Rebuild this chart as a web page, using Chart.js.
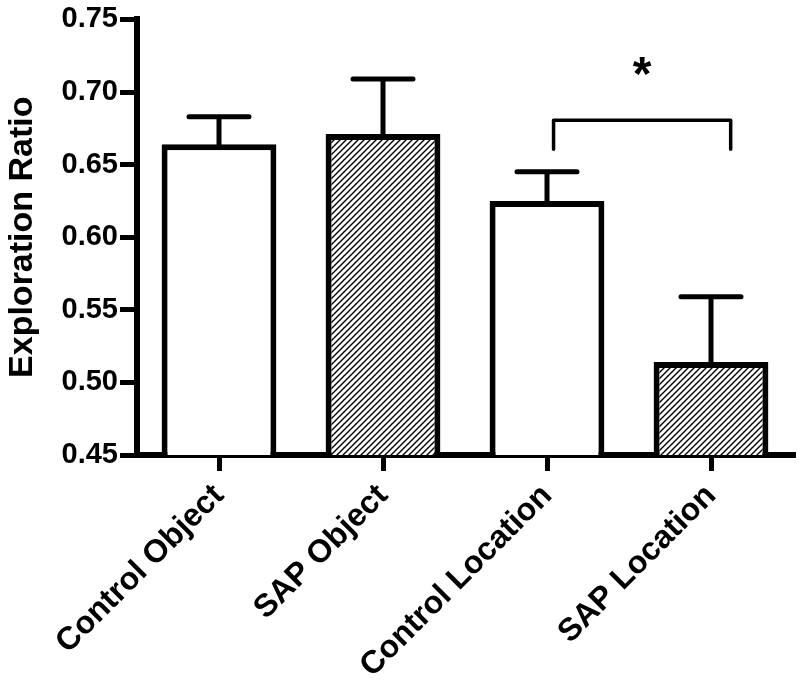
<!DOCTYPE html>
<html>
<head>
<meta charset="utf-8">
<script src="https://cdn.jsdelivr.net/npm/chart.js@4.4.1/dist/chart.umd.min.js"></script>
<style>
  body { margin: 0; background: #fff; }
  #wrap { width: 800px; height: 686px; }
</style>
</head>
<body>
<div id="wrap"><canvas id="myChart" width="800" height="686"></canvas></div>
<script>
// values
const categories = ['Control Object', 'SAP Object', 'Control Location', 'SAP Location'];
const means = [0.664, 0.671, 0.625, 0.514];
const sems = [0.019, 0.038, 0.020, 0.045];
const hatched = [false, true, false, true];
const yTicks = [0.45, 0.50, 0.55, 0.60, 0.65, 0.70, 0.75];

// significance bracket between Control Location and SAP Location
const sigFrom = [2.04, 0.6605];
const sigTo = [3.12, 0.6805];
const sigLabel = '*';
const sigLabelLevel = 0.7015;

const FONT = '"Liberation Sans", Arial, sans-serif';

function makeHatch(ctx) {
    const c = document.createElement('canvas');
    c.width = 6; c.height = 6;
    const g = c.getContext('2d');
    g.fillStyle = '#fff';
    g.fillRect(0, 0, 6, 6);
    g.strokeStyle = '#000';
    g.lineWidth = 1.4;
    g.beginPath();
    g.moveTo(0, 6); g.lineTo(6, 0);
    g.moveTo(-1, 1); g.lineTo(1, -1);
    g.moveTo(5, 7); g.lineTo(7, 5);
    g.stroke();
    return ctx.createPattern(c, 'repeat');
}

const ctx = document.getElementById('myChart');
const hatch = makeHatch(ctx.getContext('2d'));

const extras = {
    id: 'extras',
    afterDatasetsDraw(chart) {
        const c = chart.ctx;
        const x = chart.scales.x, y = chart.scales.y;
        const meta = chart.getDatasetMeta(0);
        c.save();
        c.strokeStyle = '#000';
        c.lineCap = 'round';
        // error bars (upper only)
        c.lineWidth = 5;
        meta.data.forEach((bar, i) => {
            const top = y.getPixelForValue(means[i] + sems[i]);
            c.beginPath();
            c.moveTo(bar.x, bar.y);
            c.lineTo(bar.x, top);
            c.moveTo(bar.x - 30, top);
            c.lineTo(bar.x + 30, top);
            c.stroke();
        });
        // bracket
        const x1 = x.getPixelForValue(sigFrom[0]);
        const x2 = x.getPixelForValue(sigTo[0]);
        const yb = y.getPixelForValue(sigFrom[1]);
        const yt = y.getPixelForValue(sigTo[1]);
        c.lineWidth = 3.5;
        c.lineJoin = 'round';
        c.beginPath();
        c.moveTo(x1, yb);
        c.lineTo(x1, yt);
        c.lineTo(x2, yt);
        c.lineTo(x2, yb);
        c.stroke();
        c.fillStyle = '#000';
        c.font = 'bold 48px ' + FONT;
        c.textAlign = 'center';
        c.textBaseline = 'alphabetic';
        c.fillText(sigLabel, (x1 + x2) / 2, y.getPixelForValue(sigLabelLevel));
        c.restore();
    }
};

new Chart(ctx, {
    type: 'bar',
    data: {
        labels: categories,
        datasets: [{
            data: means,
            backgroundColor: hatched.map(h => h ? hatch : '#fff'),
            borderColor: '#000',
            borderWidth: 6,
            barPercentage: 0.7,
            categoryPercentage: 1
        }]
    },
    options: {
        responsive: false,
        animation: false,
        layout: { padding: { top: 16, right: 7, left: 0, bottom: 0 } },
        plugins: { legend: { display: false }, tooltip: { enabled: false } },
        scales: {
            x: {
                offset: true,
                grid: { display: true, drawOnChartArea: false, offset: false, tickLength: 16, lineWidth: 5, color: '#000' },
                border: { display: true, width: 6, color: '#000' },
                ticks: {
                    autoSkip: false, minRotation: 45, maxRotation: 45, padding: 6,
                    color: '#000', font: { family: FONT, size: 32, weight: 'bold' }
                },
                afterFit(scale) { scale.height = 231; }
            },
            y: {
                min: 0.45,
                max: 0.75,
                afterBuildTicks(scale) { scale.ticks = yTicks.map(v => ({ value: v })); },
                grid: { display: true, drawOnChartArea: false, tickLength: 17, lineWidth: 5, color: '#000' },
                border: { display: true, width: 6, color: '#000' },
                ticks: {
                    padding: 2, color: '#000',
                    font: { family: FONT, size: 29, weight: 'bold' },
                    callback: v => v.toFixed(2)
                },
                title: {
                    display: true, text: 'Exploration Ratio', color: '#000',
                    font: { family: FONT, size: 34, weight: 'bold' },
                    padding: { top: 2, bottom: 0 }
                },
                afterFit(scale) { scale.width = 137; }
            }
        }
    },
    plugins: [extras]
});
</script>
</body>
</html>
